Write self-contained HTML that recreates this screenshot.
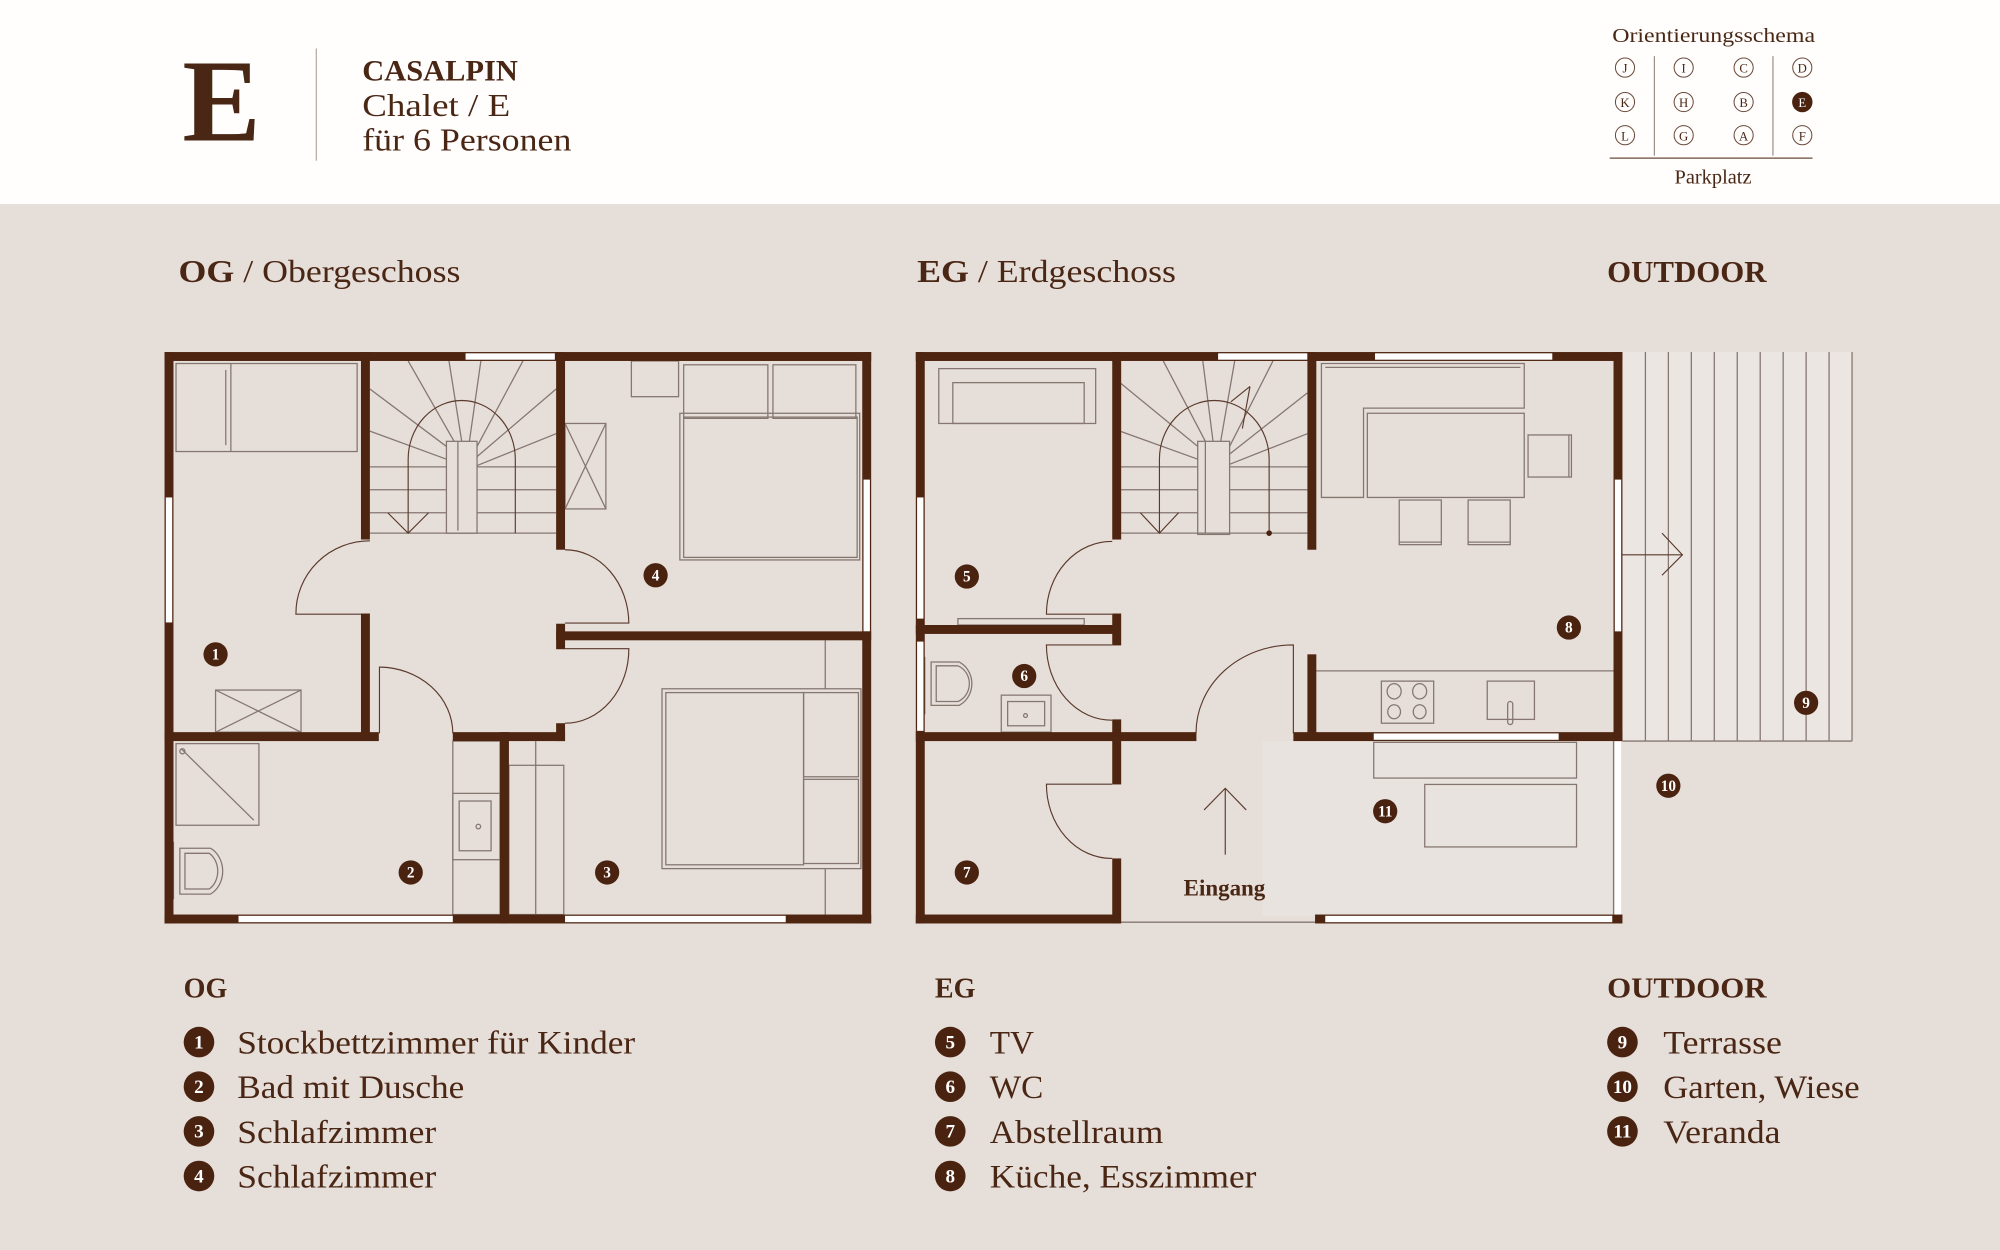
<!DOCTYPE html>
<html><head><meta charset="utf-8"><style>
html,body{margin:0;padding:0;background:#e6ded9;}
svg{display:block;}
text{font-family:"Liberation Serif",serif;fill:#4a2614;}
.w{fill:#4e2511;}
.win{fill:#fff;}
.f{fill:none;stroke:#857670;stroke-width:1;}
.d{fill:none;stroke:#5a3a2c;stroke-width:0.9;}
.n circle{fill:#4a2210;}
.n text{fill:#fff;font-weight:bold;font-size:12px;text-anchor:middle;}
.l circle{fill:#4a2210;}
.l text.c{fill:#fff;font-weight:bold;font-size:15px;text-anchor:middle;}
.l text.t{font-size:26px;}
</style></head><body>
<svg width="2000" height="1250" viewBox="0 0 1568 980" xmlns="http://www.w3.org/2000/svg">
<rect x="0" y="0" width="1568" height="980" fill="#e6ded9"/>
<rect x="0" y="0" width="1568" height="160" fill="#fffefd"/>
<!-- header -->
<text x="143" y="110" font-size="92" font-weight="bold">E</text>
<line x1="248" y1="38" x2="248" y2="126" stroke="#b9aaa2" stroke-width="1"/>
<text x="284" y="63" font-size="23" font-weight="bold" textLength="122" lengthAdjust="spacingAndGlyphs">CASALPIN</text>
<text x="284" y="91" font-size="25" textLength="116" lengthAdjust="spacingAndGlyphs">Chalet / E</text>
<text x="284" y="118" font-size="25" textLength="164" lengthAdjust="spacingAndGlyphs">für 6 Personen</text>
<text x="1264" y="33" font-size="16" textLength="159" lengthAdjust="spacingAndGlyphs">Orientierungsschema</text>
<g font-size="10" text-anchor="middle">
<g fill="none" stroke="#6a4a3a" stroke-width="0.8">
<circle cx="1274" cy="53" r="7.5"/><circle cx="1320" cy="53" r="7.5"/><circle cx="1367" cy="53" r="7.5"/><circle cx="1413" cy="53" r="7.5"/>
<circle cx="1274" cy="80" r="7.5"/><circle cx="1320" cy="80" r="7.5"/><circle cx="1367" cy="80" r="7.5"/>
<circle cx="1274" cy="106" r="7.5"/><circle cx="1320" cy="106" r="7.5"/><circle cx="1367" cy="106" r="7.5"/><circle cx="1413" cy="106" r="7.5"/>
</g>
<circle cx="1413" cy="80" r="8" fill="#4a2210"/>
<text x="1274" y="57">J</text><text x="1320" y="57">I</text><text x="1367" y="57">C</text><text x="1413" y="57">D</text>
<text x="1274" y="84">K</text><text x="1320" y="84">H</text><text x="1367" y="84">B</text><text x="1413" y="84" style="fill:#fff">E</text>
<text x="1274" y="110">L</text><text x="1320" y="110">G</text><text x="1367" y="110">A</text><text x="1413" y="110">F</text>
</g>
<line x1="1297" y1="44" x2="1297" y2="122" stroke="#8a7a72" stroke-width="0.8"/>
<line x1="1390" y1="44" x2="1390" y2="122" stroke="#8a7a72" stroke-width="0.8"/>
<line x1="1262" y1="124" x2="1421" y2="124" stroke="#6a4a3a" stroke-width="1"/>
<text x="1343" y="144" font-size="16" text-anchor="middle">Parkplatz</text>

<!-- section titles -->
<text x="140" y="221" font-size="25" textLength="221" lengthAdjust="spacingAndGlyphs"><tspan font-weight="bold">OG</tspan> / Obergeschoss</text>
<text x="719" y="221" font-size="25" textLength="203" lengthAdjust="spacingAndGlyphs"><tspan font-weight="bold">EG</tspan> / Erdgeschoss</text>
<text x="1260" y="221" font-size="24" font-weight="bold" textLength="125" lengthAdjust="spacingAndGlyphs">OUTDOOR</text>

<!-- ================= OG ================= -->
<g>
<rect class="f" x="138" y="285" width="142" height="69"/>
<line class="f" x1="181" y1="285" x2="181" y2="354"/><line class="f" x1="177" y1="290" x2="177" y2="349"/>
<rect class="f" x="169" y="541" width="67" height="33"/><path class="f" d="M169 541 L236 574 M236 541 L169 574"/>
<rect class="f" x="138" y="583" width="65" height="64"/><line class="f" x1="142" y1="587" x2="199" y2="643"/><circle class="f" cx="143" cy="589" r="2"/>
<path class="f" d="M136 660 V705 M141 665 H165 A17 20 0 0 1 165 701 H141 Z M145 669 H164 A13 16 0 0 1 164 697 H145 Z"/>
<rect class="f" x="355" y="581" width="37" height="136"/>
<rect class="f" x="355" y="622" width="37" height="52"/><rect class="f" x="360" y="628" width="25" height="39"/><circle class="f" cx="375" cy="648" r="1.8"/>
<line class="f" x1="420" y1="581" x2="420" y2="717"/><rect class="f" x="399" y="600" width="43" height="117"/>
<rect class="f" x="495" y="283" width="37" height="28"/>
<rect class="f" x="536" y="286" width="66" height="42"/><rect class="f" x="606" y="286" width="65" height="42"/>
<rect class="f" x="533" y="324" width="141" height="115"/><rect class="f" x="536" y="327" width="136" height="110"/>
<rect class="f" x="443" y="332" width="32" height="67"/><path class="f" d="M443 332 L475 399 M475 332 L443 399"/>
<rect class="f" x="519" y="540" width="156" height="141"/><rect class="f" x="522" y="543" width="108" height="135"/>
<rect class="f" x="630" y="543" width="43" height="66"/><rect class="f" x="630" y="611" width="43" height="66"/>
<line class="f" x1="647" y1="502" x2="647" y2="540"/><line class="f" x1="647" y1="681" x2="647" y2="717"/>
<rect class="f" x="350" y="346" width="24" height="72"/><line class="f" x1="359" y1="346" x2="359" y2="416"/>
<path class="f" d="M290 366 H350 M374 366 H436 M290 384 H350 M374 384 H436 M290 402 H350 M374 402 H436 M290 418 H436"/>
<path class="f" d="M350 350 L290 305 M350 360 L290 338 M356 346 L320 283 M362 346 L352 283 M368 346 L377 283 M374 350 L410 283 M374 358 L436 305 M374 365 L436 340"/>
<path class="d" d="M320 418 V360 A42 46 0 0 1 404 360 V418"/>
<path class="d" d="M304 402 L320 418 L336 402"/>
<path class="d" d="M290 481.5 H232 A58 57 0 0 1 290 424"/>
<path class="d" d="M443 488.5 H493 A50 58 0 0 0 443 431"/>
<path class="d" d="M443 508.6 H493 A50 58 0 0 1 443 567"/>
<path class="d" d="M297.5 575 V523 A58 52 0 0 1 355 575"/>
<rect class="w" x="129" y="276" width="554" height="7"/>
<rect class="w" x="129" y="717" width="554" height="7"/>
<rect class="w" x="129" y="276" width="7" height="448"/>
<rect class="w" x="676" y="276" width="7" height="448"/>
<rect class="win" x="365" y="277" width="70" height="5"/>
<rect class="win" x="130" y="390" width="5" height="98"/>
<rect class="win" x="677" y="376" width="5" height="119"/>
<rect class="win" x="187" y="718" width="168" height="5"/>
<rect class="win" x="443" y="718" width="173" height="5"/>
<rect class="w" x="283" y="276" width="7" height="147"/>
<rect class="w" x="283" y="481" width="7" height="97"/>
<rect class="w" x="129" y="574" width="168" height="7"/>
<rect class="w" x="436" y="276" width="7" height="155"/>
<rect class="w" x="436" y="489" width="7" height="20"/>
<rect class="w" x="436" y="495" width="247" height="7"/>
<rect class="w" x="436" y="567" width="7" height="14"/>
<rect class="w" x="355" y="574" width="88" height="7"/>
<rect class="w" x="392" y="574" width="7" height="150"/>
</g>
<g class="n">
<circle cx="169" cy="513" r="9.5"/><text x="169" y="517">1</text>
<circle cx="322" cy="684" r="9.5"/><text x="322" y="688">2</text>
<circle cx="476" cy="684" r="9.5"/><text x="476" y="688">3</text>
<circle cx="514" cy="451" r="9.5"/><text x="514" y="455">4</text>
</g>

<!-- ================= EG ================= -->
<g>
<rect x="1272" y="276" width="180" height="305" fill="#ece6e2"/>
<g class="f">
<path d="M1290 276V581 M1308 276V581 M1326 276V581 M1344 276V581 M1362 276V581 M1380 276V581 M1398 276V581 M1416 276V581 M1434 276V581 M1452 276V581 M1272 581H1452"/>
</g>
<rect x="990" y="581" width="275" height="137" fill="#e9e3df"/>
<line class="f" x1="1265" y1="581" x2="1265" y2="718"/>
<rect class="win" x="1266" y="581" width="5" height="137"/>
<line class="f" x1="878" y1="723" x2="1031" y2="723"/>
<rect class="f" x="736" y="289" width="123" height="43"/><rect class="f" x="747" y="300" width="103" height="32"/>
<rect class="f" x="751" y="485" width="99" height="5"/>
<path class="f" d="M725 515 V560 M730 519 H752 A18 19 0 0 1 752 553 H730 Z M734 522 H751 A14 15 0 0 1 751 550 H734 Z"/>
<rect class="f" x="785" y="545" width="39" height="29"/><rect class="f" x="790" y="550" width="29" height="19"/><circle class="f" cx="804" cy="561" r="1.5"/>
<rect class="f" x="939" y="346" width="25" height="73"/><line class="f" x1="945" y1="346" x2="945" y2="418"/>
<path class="f" d="M878 366 H939 M964 366 H1025 M878 384 H939 M964 384 H1025 M878 402 H939 M964 402 H1025 M878 418 H1025"/>
<path class="f" d="M939 350 L878 300 M939 360 L878 338 M945 346 L912 283 M951 346 L943 283 M957 346 L968 283 M964 350 L998 283 M964 356 L1025 308 M964 364 L1025 340"/>
<path class="d" d="M909 418 V360 A43 46 0 0 1 995 360 V418"/>
<path class="d" d="M894 402 L909 418 L924 402"/>
<circle cx="995" cy="418" r="2.2" fill="#4a2210"/>
<path class="d" d="M980 303 L965 315 M980 303 L974 336"/>
<path class="f" d="M1036 285 H1195 V320 H1069 V390 H1036 Z"/><path class="f" d="M1039 288 H1192"/>
<rect class="f" x="1072" y="324" width="123" height="66"/>
<rect class="f" x="1198" y="341" width="34" height="33"/><line class="f" x1="1230" y1="341" x2="1230" y2="374"/>
<rect class="f" x="1097" y="392" width="33" height="35"/><line class="f" x1="1097" y1="425" x2="1130" y2="425"/>
<rect class="f" x="1151" y="392" width="33" height="35"/><line class="f" x1="1151" y1="425" x2="1184" y2="425"/>
<line class="f" x1="1032" y1="526" x2="1265" y2="526"/>
<rect class="f" x="1083" y="534" width="41" height="33"/>
<ellipse class="f" cx="1093" cy="542" rx="5.5" ry="6"/><ellipse class="f" cx="1113" cy="542" rx="5.5" ry="6"/>
<ellipse class="f" cx="1093" cy="558" rx="5" ry="5.5"/><ellipse class="f" cx="1113" cy="558" rx="5" ry="5.5"/>
<rect class="f" x="1166" y="534" width="37" height="30"/><rect class="f" x="1182" y="550" width="4" height="18" rx="2"/>
<rect class="f" x="1077" y="582" width="159" height="28"/>
<rect class="f" x="1117" y="615" width="119" height="49"/>
<path class="d" d="M1265 435 H1319 M1303 418 L1319 435 L1303 451"/>
<path class="d" d="M960.6 670 V618 M944 635 L960.6 618 L977 635"/>
<text x="960" y="702" font-size="18" font-weight="bold" text-anchor="middle">Eingang</text>
<path class="d" d="M872 481.5 H820.4 A51 57 0 0 1 872 424.5"/>
<path class="d" d="M872 505.6 H820.4 A51 59 0 0 0 872 564.6"/>
<path class="d" d="M1014 575 V505.6 A76 69 0 0 0 937.7 575"/>
<path class="d" d="M872 614.8 H820.4 A51 58 0 0 0 872 673"/>
<rect class="w" x="718" y="276" width="554" height="7"/>
<rect class="win" x="955" y="277" width="70" height="5"/>
<rect class="win" x="1078" y="277" width="139" height="5"/>
<rect class="w" x="718" y="276" width="7" height="448"/>
<rect class="win" x="719" y="390" width="5" height="95"/>
<rect class="win" x="719" y="503" width="5" height="70"/>
<rect class="w" x="1265" y="276" width="7" height="305"/>
<rect class="win" x="1266" y="376" width="5" height="119"/>
<rect class="w" x="718" y="717" width="160" height="7"/>
<rect class="w" x="1031" y="717" width="241" height="7"/>
<rect class="win" x="1039" y="718" width="225" height="5"/>
<rect class="w" x="872" y="276" width="7" height="147"/>
<rect class="w" x="1025" y="276" width="7" height="155"/>
<rect class="w" x="718" y="490" width="160" height="7"/>
<rect class="w" x="872" y="481" width="7" height="25"/>
<rect class="w" x="872" y="564" width="7" height="12"/>
<rect class="w" x="718" y="574" width="220" height="7"/>
<rect class="w" x="1014" y="574" width="258" height="7"/>
<rect class="win" x="1077" y="575" width="145" height="5"/>
<rect class="w" x="1025" y="513" width="7" height="66"/>
<rect class="w" x="872" y="574" width="7" height="41"/>
<rect class="w" x="872" y="673" width="7" height="51"/>
</g>
<g class="n">
<circle cx="758" cy="452" r="9.5"/><text x="758" y="456">5</text>
<circle cx="803" cy="530" r="9.5"/><text x="803" y="534">6</text>
<circle cx="758" cy="684" r="9.5"/><text x="758" y="688">7</text>
<circle cx="1230" cy="492" r="9.5"/><text x="1230" y="496">8</text>
<circle cx="1416" cy="551" r="9.5"/><text x="1416" y="555">9</text>
<circle cx="1308" cy="616" r="9.5"/><text x="1308" y="620" font-size="10.5">10</text>
<circle cx="1086" cy="636" r="9.5"/><text x="1086" y="640" font-size="10.5">11</text>
</g>

<!-- ================= legend ================= -->
<text x="144" y="782" font-size="22" font-weight="bold">OG</text>
<text x="733" y="782" font-size="22" font-weight="bold">EG</text>
<text x="1260" y="782" font-size="22" font-weight="bold" textLength="125" lengthAdjust="spacingAndGlyphs">OUTDOOR</text>
<g class="l">
<circle cx="156" cy="817" r="12"/><text class="c" x="156" y="822">1</text><text class="t" x="186" y="826" textLength="312" lengthAdjust="spacingAndGlyphs">Stockbettzimmer für Kinder</text>
<circle cx="156" cy="852" r="12"/><text class="c" x="156" y="857">2</text><text class="t" x="186" y="861" textLength="178" lengthAdjust="spacingAndGlyphs">Bad mit Dusche</text>
<circle cx="156" cy="887" r="12"/><text class="c" x="156" y="892">3</text><text class="t" x="186" y="896" textLength="156" lengthAdjust="spacingAndGlyphs">Schlafzimmer</text>
<circle cx="156" cy="922" r="12"/><text class="c" x="156" y="927">4</text><text class="t" x="186" y="931" textLength="156" lengthAdjust="spacingAndGlyphs">Schlafzimmer</text>

<circle cx="745" cy="817" r="12"/><text class="c" x="745" y="822">5</text><text class="t" x="776" y="826">TV</text>
<circle cx="745" cy="852" r="12"/><text class="c" x="745" y="857">6</text><text class="t" x="776" y="861">WC</text>
<circle cx="745" cy="887" r="12"/><text class="c" x="745" y="892">7</text><text class="t" x="776" y="896" textLength="136" lengthAdjust="spacingAndGlyphs">Abstellraum</text>
<circle cx="745" cy="922" r="12"/><text class="c" x="745" y="927">8</text><text class="t" x="776" y="931" textLength="209" lengthAdjust="spacingAndGlyphs">Küche, Esszimmer</text>

<circle cx="1272" cy="817" r="12"/><text class="c" x="1272" y="822">9</text><text class="t" x="1304" y="826" textLength="93" lengthAdjust="spacingAndGlyphs">Terrasse</text>
<circle cx="1272" cy="852" r="12"/><text class="c" x="1272" y="857" font-size="13">10</text><text class="t" x="1304" y="861" textLength="154" lengthAdjust="spacingAndGlyphs">Garten, Wiese</text>
<circle cx="1272" cy="887" r="12"/><text class="c" x="1272" y="892" font-size="13">11</text><text class="t" x="1304" y="896" textLength="92" lengthAdjust="spacingAndGlyphs">Veranda</text>
</g>
</svg>
</body></html>
